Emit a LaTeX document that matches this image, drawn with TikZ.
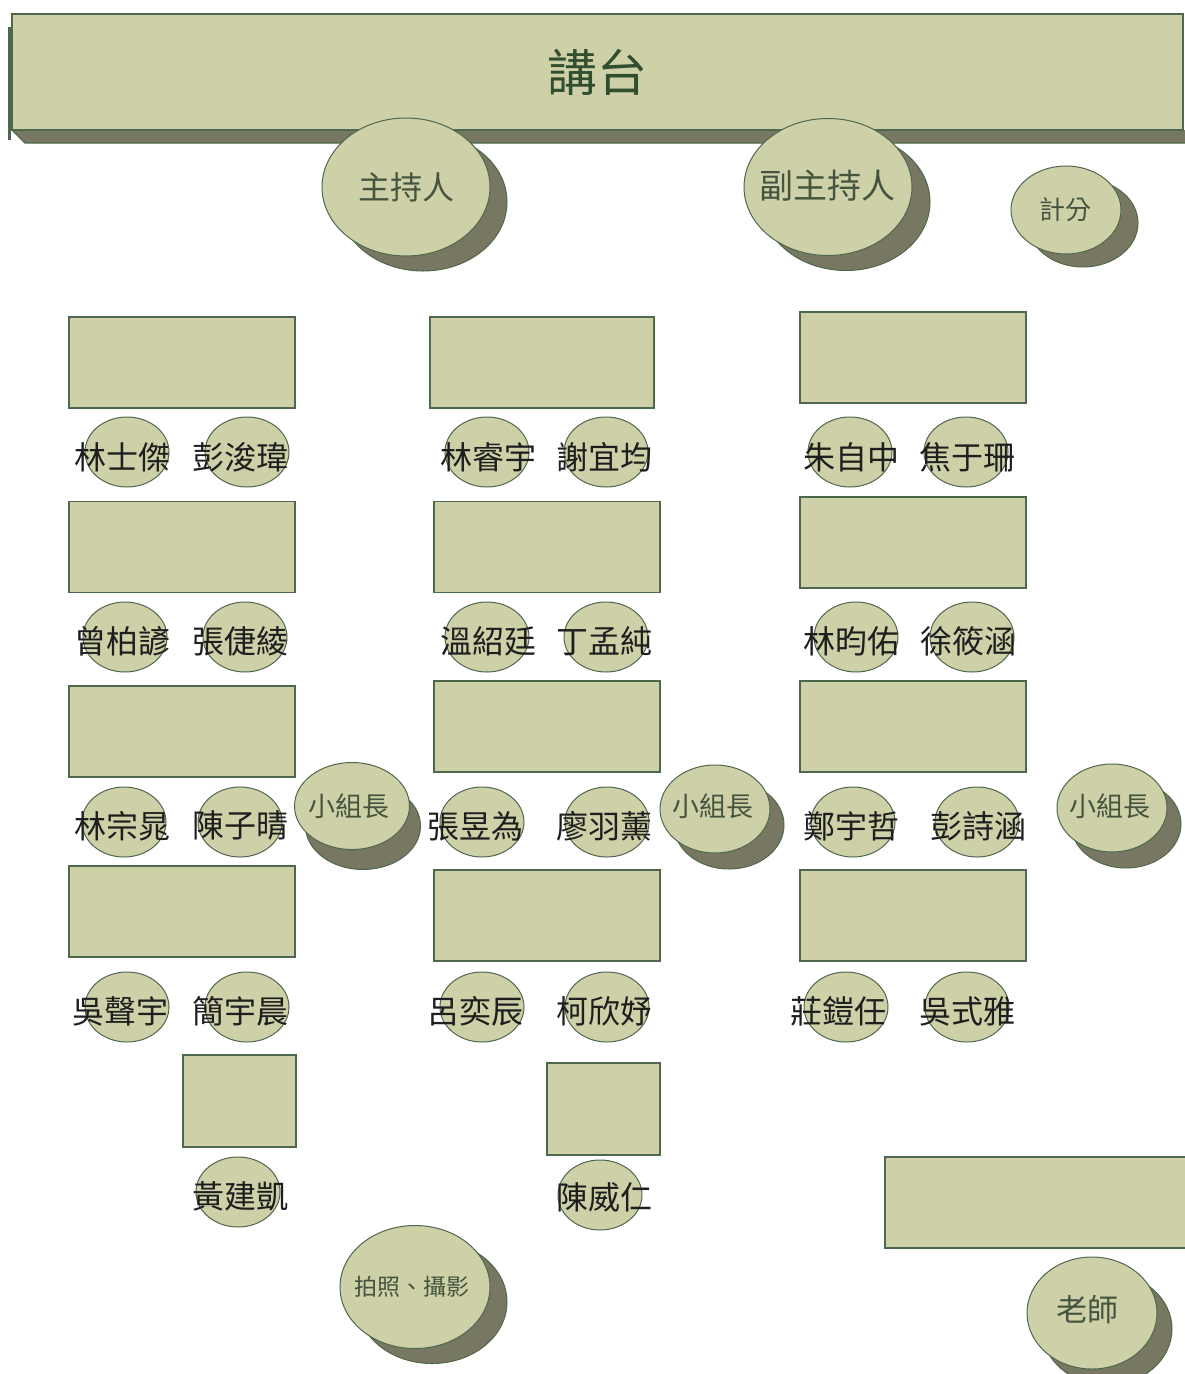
\documentclass[tikz,border=0pt]{standalone}
\usepackage{fontspec}
\newfontfamily\cjk{Noto Sans CJK TC}
\usetikzlibrary{shapes.geometric,shadows}
\definecolor{beige}{RGB}{206,208,168}
\definecolor{edge}{RGB}{78,104,78}
\definecolor{shcol}{RGB}{120,120,98}
\definecolor{lblcol}{RGB}{68,84,62}
\definecolor{ttlcol}{RGB}{48,78,48}
\definecolor{namecol}{RGB}{30,30,30}
\tikzset{
  tbl/.style={draw=edge, fill=beige, line width=1.2pt, rectangle, inner sep=0pt},
  seat/.style={draw=edge, fill=beige, line width=1pt, ellipse, inner sep=0pt, minimum width=84pt, minimum height=70pt},
  nametxt/.style={font=\cjk\fontsize{32pt}{32pt}\selectfont, text=namecol, inner sep=0pt},
  role/.style={draw=edge, fill=beige, line width=1pt, ellipse, inner sep=0pt},
  rolelbl/.style={text=lblcol, inner sep=0pt},
}
\begin{document}
\begin{tikzpicture}[x=1pt,y=-1pt]
\useasboundingbox[fill=white] (0,0) rectangle (1185,1374);
% podium
\fill[shcol] (12,130) -- (1185,130) -- (1185,143) -- (25,143) -- cycle;
\draw[edge, line width=1.2pt] (12,130) -- (25,143) -- (1185,143);
\draw[edge, line width=3pt] (9,27) -- (9,140);
\node[tbl, minimum width=1171pt, minimum height=116pt] (podium) at (597.5,72) {};
\node[text=ttlcol, inner sep=0pt, font=\cjk\fontsize{50pt}{50pt}\selectfont] (podiumt) at (597,72) {講台};
% tables
\node[tbl, minimum width=226pt, minimum height=91pt] (t11) at (182,362.5) {};
\node[tbl, minimum width=226pt, minimum height=91pt] (t12) at (182,547) {};
\node[tbl, minimum width=226pt, minimum height=91pt] (t13) at (182,731.5) {};
\node[tbl, minimum width=226pt, minimum height=91pt] (t14) at (182,911.5) {};
\node[tbl, minimum width=224pt, minimum height=91pt] (t21) at (542,362.5) {};
\node[tbl, minimum width=226pt, minimum height=91pt] (t22) at (547,547) {};
\node[tbl, minimum width=226pt, minimum height=91pt] (t23) at (547,726.5) {};
\node[tbl, minimum width=226pt, minimum height=91pt] (t24) at (547,915.5) {};
\node[tbl, minimum width=226pt, minimum height=91pt] (t31) at (913,357.5) {};
\node[tbl, minimum width=226pt, minimum height=91pt] (t32) at (913,542.5) {};
\node[tbl, minimum width=226pt, minimum height=91pt] (t33) at (913,726.5) {};
\node[tbl, minimum width=226pt, minimum height=91pt] (t34) at (913,915.5) {};
\node[tbl, minimum width=113pt, minimum height=92pt] (t15) at (239.5,1101) {};
\node[tbl, minimum width=113pt, minimum height=92pt] (t25) at (603.5,1109) {};
\node[tbl, minimum width=310pt, minimum height=91pt] (tteach) at (1040,1202.5) {};
% seats and names
\foreach \i/\cx/\cy/\tx/\ty/\nm in {
  1/127/452/122/457/林士傑, 2/247/452/240/457/彭浚瑋, 3/487/452/488/457/林睿宇,
  4/606/452/604/457/謝宜均, 5/850/452/851/457/朱自中, 6/966/452/967/457/焦于珊,
  7/125/637/122/641/曾柏諺, 8/245/637/240/641/張倢綾, 9/487/637/488/641/溫紹廷,
  10/606/637/604/641/丁孟純, 11/856/637/851/641/林昀佑, 12/972/637/968/641/徐筱涵,
  13/124/822/122/826/林宗晁, 14/240/822/240/826/陳子晴, 15/482/822/475/826/張昱為,
  16/607/822/604/826/廖羽薰, 17/853/822/851/826/鄭宇哲, 18/977/822/978/826/彭詩涵,
  19/127/1007/120/1011/吳聲宇, 20/247/1007/240/1011/簡宇晨, 21/482/1007/475/1011/呂奕辰,
  22/607/1007/604/1011/柯欣妤, 23/846/1007/838/1011/莊鎧任, 24/967/1007/967/1011/吳式雅,
  25/238/1192/240/1196/黃建凱, 26/600/1195/604/1197/陳威仁}
{
  \node[seat] (s\i) at (\cx,\cy) {};
  \node[nametxt] (n\i) at (\tx,\ty) {\nm};
}
% role circles with shadows
\node[role, minimum width=168pt, minimum height=138pt,
  drop shadow={shadow xshift=17pt, shadow yshift=-15pt, fill=shcol, draw=edge, opacity=1}] (host) at (406,187) {};
\node[rolelbl, font=\cjk\fontsize{32pt}{32pt}\selectfont] (hostt) at (406,187) {主持人};
\node[role, minimum width=168pt, minimum height=137pt,
  drop shadow={shadow xshift=18pt, shadow yshift=-15pt, fill=shcol, draw=edge, opacity=1}] (cohost) at (828,187) {};
\node[rolelbl, font=\cjk\fontsize{34pt}{34pt}\selectfont] (cohostt) at (827,186) {副主持人};
\node[role, minimum width=110pt, minimum height=88pt,
  drop shadow={shadow xshift=17pt, shadow yshift=-13pt, fill=shcol, draw=edge, opacity=1}] (score) at (1066,210) {};
\node[rolelbl, font=\cjk\fontsize{26pt}{26pt}\selectfont] (scoret) at (1065,210) {計分};
\node[role, minimum width=115pt, minimum height=87pt,
  drop shadow={shadow xshift=11pt, shadow yshift=-20pt, fill=shcol, draw=edge, opacity=1}] (lead1) at (352,806) {};
\node[rolelbl, font=\cjk\fontsize{27pt}{27pt}\selectfont] (lead1t) at (349,806) {小組長};
\node[role, minimum width=110pt, minimum height=88pt,
  drop shadow={shadow xshift=14pt, shadow yshift=-16pt, fill=shcol, draw=edge, opacity=1}] (lead2) at (715,809) {};
\node[rolelbl, font=\cjk\fontsize{27pt}{27pt}\selectfont] (lead2t) at (713,806) {小組長};
\node[role, minimum width=110pt, minimum height=88pt,
  drop shadow={shadow xshift=14pt, shadow yshift=-16pt, fill=shcol, draw=edge, opacity=1}] (lead3) at (1112,808) {};
\node[rolelbl, font=\cjk\fontsize{27pt}{27pt}\selectfont] (lead3t) at (1110,806) {小組長};
\node[role, minimum width=150pt, minimum height=123pt,
  drop shadow={shadow xshift=17pt, shadow yshift=-15pt, fill=shcol, draw=edge, opacity=1}] (photo) at (415,1287) {};
\node[rolelbl, font=\cjk\fontsize{23pt}{23pt}\selectfont] (photot) at (412,1287) {拍照、攝影};
\node[role, minimum width=130pt, minimum height=112pt,
  drop shadow={shadow xshift=15pt, shadow yshift=-16pt, fill=shcol, draw=edge, opacity=1}] (teacher) at (1092,1313) {};
\node[rolelbl, font=\cjk\fontsize{31pt}{31pt}\selectfont] (teachert) at (1087,1310) {老師};
\end{tikzpicture}
\end{document}
